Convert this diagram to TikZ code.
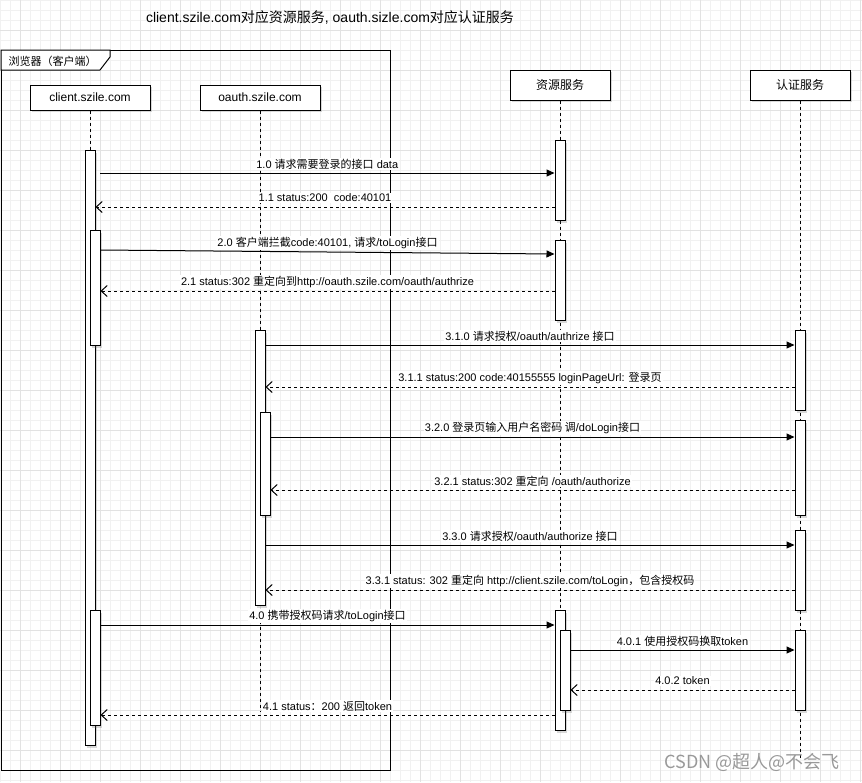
\documentclass[tikz,border=0pt]{standalone}
\usepackage{fontspec}
\setmainfont{Liberation Sans}
\newfontfamily\cjk{Noto Sans CJK SC}
\newcommand\zh[1]{{\cjk #1}}
\usetikzlibrary{arrows.meta,shadows}
\definecolor{gridminor}{HTML}{F1F1F1}
\definecolor{gridmajor}{HTML}{E2E2E2}
\begin{document}
\begin{tikzpicture}[x=1pt,y=-1pt,
  every node/.style={font=\fontsize{11}{13}\selectfont},
  shad/.style={drop shadow={shadow xshift=2pt, shadow yshift=-2pt, opacity=0.25, fill=black!60}},
  head/.style={draw, fill=white, line width=1pt, inner sep=0pt, shad, font=\fontsize{12}{14}\selectfont},
  bar/.style={draw, fill=white, line width=1pt, minimum width=10pt, inner sep=0pt, anchor=north, shad},
  life/.style={line width=1pt, dash pattern=on 3pt off 3pt},
  msg/.style={line width=1pt, -{Triangle[length=8pt,width=7pt]}},
  ret/.style={line width=1pt, dash pattern=on 3pt off 3pt, -{Straight Barb[length=6pt,width=11pt]}},
  lbl/.style={fill=white, inner sep=1pt, midway, yshift=9pt},
]
\useasboundingbox (0,0) rectangle (862,782);
\fill[white] (0,0) rectangle (862,782);
% grid
\foreach \x in {0,10,...,860} \draw[gridminor, line width=0.6pt] (\x,0) -- (\x,782);
\foreach \y in {0,10,...,780} \draw[gridminor, line width=0.6pt] (0,\y) -- (862,\y);
\foreach \x in {20,60,...,860} \draw[gridmajor, line width=0.6pt] (\x,0) -- (\x,782);
\foreach \y in {30,70,...,770} \draw[gridmajor, line width=0.6pt] (0,\y) -- (862,\y);

% title
\node[font=\fontsize{14}{16}\selectfont] (title) at (330,17) {client.szile.com\zh{对应资源服务}, oauth.sizle.com\zh{对应认证服务}};

% frame
\node[draw, line width=1pt, minimum width=389pt, minimum height=720pt, anchor=north west, inner sep=0pt] (frame) at (1,50) {};
\draw[fill=white, line width=1pt] (1,50) -- (110,50) -- (110,57) -- (100,70) -- (1,70) -- cycle;
\node[anchor=west] (frametitle) at (5,61) {\zh{浏览器（客户端）}};

% headers
\node[head, minimum width=120pt, minimum height=25pt] (client) at (90,97.5) {client.szile.com};
\node[head, minimum width=120pt, minimum height=25pt] (oauth) at (260,97.5) {oauth.szile.com};
\node[head, minimum width=100pt, minimum height=30pt] (res) at (560,85) {\zh{资源服务}};
\node[head, minimum width=100pt, minimum height=30pt] (auth) at (800,85) {\zh{认证服务}};

% lifelines
\coordinate (clientEnd) at (90,745);
\coordinate (oauthEnd) at (260,712);
\coordinate (resEnd) at (560,730);
\coordinate (authEnd) at (800,760);
\draw[life] (client.south) -- (clientEnd);
\draw[life] (oauth.south) -- (oauthEnd);
\draw[life] (res.south) -- (resEnd);
\draw[life] (auth.south) -- (authEnd);

% activation bars
\node[bar, minimum height=595pt] (cA) at (90,150) {};
\node[bar, minimum height=115pt] (cB) at (95,230) {};
\node[bar, minimum height=115pt] (cC) at (95,610) {};
\node[bar, minimum height=275pt] (oA) at (260,330) {};
\node[bar, minimum height=103pt] (oB) at (265,412) {};
\node[bar, minimum height=80pt] (r1) at (560,140) {};
\node[bar, minimum height=80pt] (r2) at (560,240) {};
\node[bar, minimum height=120pt] (r3) at (560,610) {};
\node[bar, minimum height=80pt] (r4) at (565,630) {};
\node[bar, minimum height=80pt] (a1) at (800,330) {};
\node[bar, minimum height=95pt] (a2) at (800,420) {};
\node[bar, minimum height=80pt] (a3) at (800,530) {};
\node[bar, minimum height=80pt] (a4) at (800,630) {};

% messages
\coordinate (m10s) at (100,173);
\draw[msg] (m10s) -- node[lbl] (l10) {1.0 \zh{请求需要登录的接口} data} (r1.west |- 0,173);
\draw[ret] (r1.west |- 0,207) -- node[lbl] (l11) {1.1 status:200\ \ code:40101} (cA.east |- 0,207);
\draw[msg] (cB.east |- 0,250) -- node[lbl] (l20) {2.0 \zh{客户端拦截}code:40101, \zh{请求}/toLogin\zh{接口}} (r2.west |- 0,254);
\draw[ret] (r2.west |- 0,291) -- node[lbl] (l21) {2.1 status:302 \zh{重定向到}http://oauth.szile.com/oauth/authrize} (cB.east |- 0,291);
\draw[msg] (oA.east |- 0,345) -- node[lbl] (l310) {3.1.0 \zh{请求授权}/oauth/authrize \zh{接口}} (a1.west |- 0,345);
\draw[ret] (a1.west |- 0,387) -- node[lbl] (l311) {3.1.1 status:200 code:40155555 loginPageUrl: \zh{登录页}} (oA.east |- 0,387);
\draw[msg] (oB.east |- 0,437) -- node[lbl] (l320) {3.2.0 \zh{登录页输入用户名密码 调}/doLogin\zh{接口}} (a2.west |- 0,437);
\draw[ret] (a2.west |- 0,490) -- node[lbl] (l321) {3.2.1 status:302 \zh{重定向} /oauth/authorize} (oB.east |- 0,490);
\draw[msg] (oA.east |- 0,545) -- node[lbl] (l330) {3.3.0 \zh{请求授权}/oauth/authorize \zh{接口}} (a3.west |- 0,545);
\draw[ret] (a3.west |- 0,590) -- node[lbl] (l331) {3.3.1 status: 302 \zh{重定向} http://client.szile.com/toLogin\zh{，包含授权码}} (oA.east |- 0,590);
\draw[msg] (cC.east |- 0,625) -- node[lbl] (l40) {4.0 \zh{携带授权码请求}/toLogin\zh{接口}} (r3.west |- 0,625);
\draw[msg] (r4.east |- 0,650) -- node[lbl] (l401) {4.0.1 \zh{使用授权码换取}token} (a4.west |- 0,650);
\draw[ret] (a4.west |- 0,690) -- node[lbl] (l402) {4.0.2 token} (r4.east |- 0,690);
\draw[ret] (r3.west |- 0,715) -- node[lbl] (l41) {4.1 status\zh{：}200 \zh{返回}token} (cC.east |- 0,715);

% watermark
\node[text=black!40, font=\cjk\fontsize{18}{20}\selectfont] (wm) at (752,762) {CSDN @超人@不会飞};
\end{tikzpicture}
\end{document}
